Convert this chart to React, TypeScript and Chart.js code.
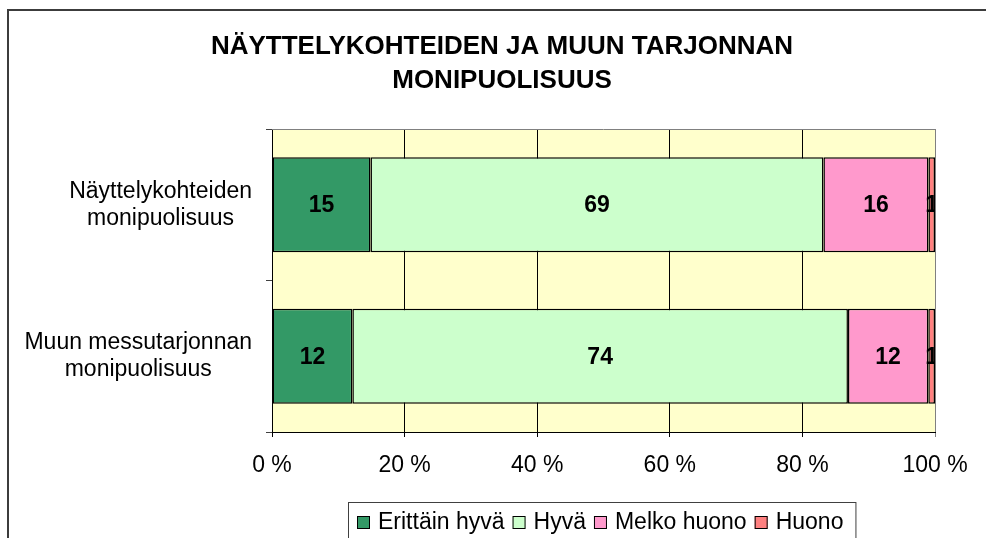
import React, { useEffect, useRef } from "react";
import { Chart, registerables } from "chart.js";

Chart.register(...registerables);

const titleLines = ["NÄYTTELYKOHTEIDEN JA MUUN TARJONNAN", "MONIPUOLISUUS"];
const categories = [
  ["Näyttelykohteiden", "monipuolisuus"],
  ["Muun messutarjonnan", "monipuolisuus"],
];
const seriesNames = ["Erittäin hyvä", "Hyvä", "Melko huono", "Huono"];
const seriesColors = ["#339966", "#CCFFCC", "#FF99CC", "#FF8080"];
const erittainHyva = [15, 12];
const hyva = [69, 74];
const melkoHuono = [16, 12];
const huono = [1, 1];
const xTicks = [0, 20, 40, 60, 80, 100];

const FONT = '"Liberation Sans", Arial, sans-serif';

export default function App() {
  const ref = useRef<HTMLCanvasElement | null>(null);

  useEffect(() => {
    const canvas = ref.current;
    if (!canvas) return;
    const raw = [erittainHyva, hyva, melkoHuono, huono];
    const totals = categories.map((_, i) => raw.reduce((s, arr) => s + arr[i], 0));

    const decor = {
      id: "decor",
      beforeDraw(chart: any) {
        const { ctx, chartArea: a } = chart;
        ctx.save();
        ctx.fillStyle = "#ffffff";
        ctx.fillRect(0, 0, chart.width, chart.height);
        ctx.fillStyle = "#FFFFCC";
        ctx.fillRect(a.left, a.top, a.right - a.left, a.bottom - a.top);
        ctx.restore();
      },
      afterDatasetsDraw(chart: any) {
        const { ctx, chartArea: a } = chart;
        ctx.save();
        ctx.beginPath();
        ctx.rect(a.left, a.top, a.right - a.left, a.bottom - a.top);
        ctx.clip();
        ctx.fillStyle = "#000";
        ctx.font = `bold 23px ${FONT}`;
        ctx.textAlign = "center";
        ctx.textBaseline = "middle";
        chart.data.datasets.forEach((ds: any, di: number) => {
          const meta = chart.getDatasetMeta(di);
          meta.data.forEach((bar: any, i: number) => {
            const v = raw[di][i];
            const cx = (bar.x + bar.base) / 2;
            ctx.fillText(String(v), cx, bar.y + 1);
          });
        });
        ctx.restore();
      },
      afterDraw(chart: any) {
        const { ctx, chartArea: a } = chart;
        const yScale = chart.scales.y;
        ctx.save();
        // plot top border
        ctx.strokeStyle = "#808080";
        ctx.lineWidth = 1;
        ctx.beginPath();
        ctx.moveTo(a.left, a.top + 0.5);
        ctx.lineTo(a.right, a.top + 0.5);
        ctx.stroke();
        // outer border
        ctx.strokeStyle = "#3c3c3c";
        ctx.lineWidth = 2;
        ctx.strokeRect(8, 10, 1000, 600);
        // title
        ctx.fillStyle = "#000";
        ctx.font = `bold 26px ${FONT}`;
        ctx.textAlign = "center";
        ctx.textBaseline = "alphabetic";
        ctx.fillText(titleLines[0], 502, 54);
        ctx.fillText(titleLines[1], 502, 88);
        // category labels
        ctx.font = `23px ${FONT}`;
        ctx.textBaseline = "middle";
        categories.forEach((lines, i) => {
          const cy = yScale.getPixelForValue(i);
          const widest = Math.max(...lines.map((l) => ctx.measureText(l).width));
          const cx = a.left - 20 - widest / 2;
          lines.forEach((l, j) => {
            ctx.fillText(l, cx, cy + (j - (lines.length - 1) / 2) * 27);
          });
        });
        // legend
        ctx.font = `23px ${FONT}`;
        const sw = 13;
        const gapText = 8;
        const gapItem = 8;
        const widths = seriesNames.map((n) => ctx.measureText(n).width);
        const total = widths.reduce((s, w) => s + sw + gapText + w, 0) + gapItem * (seriesNames.length - 1);
        const boxW = 9 + total + 12;
        const boxL = 348;
        ctx.strokeStyle = "#404040";
        ctx.lineWidth = 1;
        ctx.strokeRect(boxL + 0.5, 502.5, boxW, 60);
        let x = boxL + 9;
        const ly = 523;
        ctx.textAlign = "left";
        seriesNames.forEach((n, i) => {
          ctx.fillStyle = seriesColors[i];
          ctx.fillRect(x, ly - 7, sw, sw);
          ctx.strokeStyle = "#000";
          ctx.strokeRect(x + 0.5, ly - 6.5, sw - 1, sw - 1);
          ctx.fillStyle = "#000";
          ctx.fillText(n, x + sw + gapText, ly);
          x += sw + gapText + widths[i] + gapItem;
        });
        ctx.restore();
      },
    };

    const chart = new Chart(canvas, {
      type: "bar",
      data: {
        labels: categories.map((c) => c.join(" ")),
        datasets: raw.map((arr, di) => ({
          label: seriesNames[di],
          data: arr.map((v, i) => (v / totals[i]) * 100),
          backgroundColor: seriesColors[di],
          borderColor: "#000",
          borderWidth: 1.5,
          borderSkipped: false,
          barPercentage: 0.627,
          categoryPercentage: 1,
        })),
      },
      options: {
        indexAxis: "y",
        responsive: false,
        animation: false,
        layout: { padding: { top: 129, left: 0, right: 51, bottom: 66 } },
        plugins: {
          legend: { display: false },
          title: { display: false },
          tooltip: { enabled: false },
        },
        scales: {
          x: {
            stacked: true,
            min: 0,
            max: 100,
            afterBuildTicks(scale: any) {
              scale.ticks = xTicks.map((v) => ({ value: v }));
            },
            afterFit(scale: any) {
              scale.height = 40;
            },
            ticks: {
              color: "#000",
              font: { family: FONT, size: 23 },
              padding: 15,
              callback: (v: any) => `${v} %`,
              maxRotation: 0,
              autoSkip: false,
            },
            grid: {
              color: (c: any) => (c.tick && c.tick.value === 100 ? "#808080" : "#000"),
              lineWidth: 1,
              tickLength: 5,
              drawTicks: true,
            },
            border: { display: true, color: "#000", width: 1 },
          },
          y: {
            stacked: true,
            afterFit(scale: any) {
              scale.width = 272;
            },
            ticks: { display: false },
            grid: {
              drawOnChartArea: false,
              drawTicks: true,
              tickLength: 6,
              color: "#404040",
              offset: true,
            },
            border: { display: true, color: "#000", width: 1 },
          },
        },
      },
      plugins: [decor],
    });
    return () => chart.destroy();
  }, []);

  return (
    <div style={{ position: "absolute", left: 0, top: 0, width: 986, height: 538 }}>
      <canvas ref={ref} width={986} height={538} style={{ width: 986, height: 538 }} />
    </div>
  );
}
